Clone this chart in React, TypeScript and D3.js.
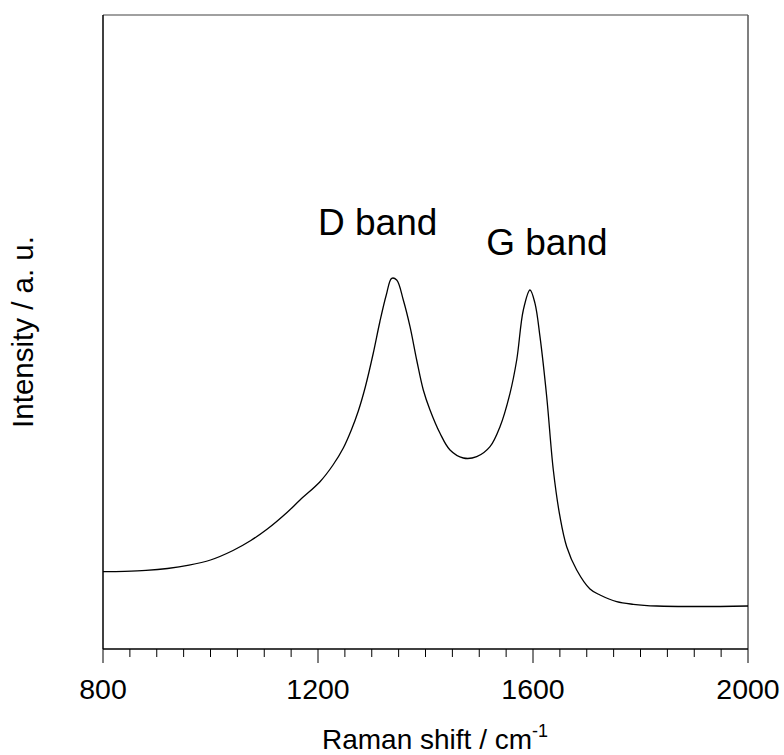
import React from "react";
import * as d3 from "d3";

const ramanShift = [
  800, 840, 880, 920, 960, 1000, 1041.9, 1075, 1105.1, 1142.3, 1166.5, 1203.7, 1227.9, 1247.1,
  1262, 1275, 1288, 1302.9, 1315, 1327, 1337.1, 1346.4, 1358.7, 1371.2, 1383.6, 1395.9,
  1408.4, 1427.0, 1445.6, 1470.3, 1495.3, 1520.0, 1538.6, 1557.2, 1569.7, 1582.0, 1594.4,
  1603.7, 1613.0, 1625.5, 1637.8, 1650.2, 1662.7, 1681.3, 1706.0, 1724.7, 1755.7, 1786.6,
  1830.1, 1910.7, 2000,
];
const intensity = [
  77.3, 77.7, 78.6, 80.5, 83.8, 89, 98.5, 108.5, 119.7, 136.5, 149, 167.3, 184, 201,
  219, 238, 262, 296, 327, 354, 370.7, 369, 349, 322.3, 289, 259,
  239, 215.7, 199, 191, 192.3, 202.3, 222.3, 255.7, 289, 339, 359,
  345.7, 312.3, 252.3, 179, 132.3, 102.3, 79, 60, 54, 47.3, 44.7,
  43, 42.5, 43,
];
const majorTicks = [800, 1200, 1600, 2000];
const minorTicks = d3.range(800, 2001, 50);
const annotations = [
  { label: "D band", x: 1200, y: 414 },
  { label: "G band", x: 1513, y: 394 },
];

const W = 784;
const H = 755;
const left = 103;
const right = 748;
const top = 15;
const bottom = 649;
const FONT = "Arial, 'Liberation Sans', Helvetica, sans-serif";

export default function App() {
  const x = d3.scaleLinear().domain([800, 2000]).range([left, right]);
  const y = d3.scaleLinear().domain([0, 634]).range([bottom, top]);
  const pts = ramanShift.map((d, i) => [d, intensity[i]] as [number, number]);
  const line = d3
    .line<[number, number]>()
    .x((d) => x(d[0]))
    .y((d) => y(d[1]))
    .curve(d3.curveCatmullRom.alpha(0.5));

  return (
    <svg
      width={W}
      height={H}
      style={{ position: "absolute", left: 0, top: 0, background: "#fff" }}
      fontFamily={FONT}
    >
      <rect x={0} y={0} width={W} height={H} fill="#fff" />
      <line x1={left} x2={right} y1={top} y2={top} stroke="#808080" strokeWidth={1.5} />
      <line x1={right} x2={right} y1={top} y2={bottom} stroke="#555" strokeWidth={1.5} />
      <line x1={left} x2={left} y1={top} y2={bottom} stroke="#000" strokeWidth={1.5} />
      <line x1={left} x2={right} y1={bottom} y2={bottom} stroke="#000" strokeWidth={1.5} />
      {minorTicks.map((t) => {
        const major = majorTicks.includes(t);
        return (
          <line
            key={t}
            x1={x(t)}
            x2={x(t)}
            y1={bottom}
            y2={bottom + (major ? 14 : 8)}
            stroke="#000"
            strokeWidth={1}
          />
        );
      })}
      {majorTicks.map((t) => (
        <text key={t} x={x(t)} y={699} textAnchor="middle" fontSize={28.5} fill="#000">
          {t}
        </text>
      ))}
      <path d={line(pts) || ""} fill="none" stroke="#000" strokeWidth={1.3} />
      {annotations.map((a) => (
        <text key={a.label} x={x(a.x)} y={y(a.y)} fontSize={37} fill="#000">
          {a.label}
        </text>
      ))}
      <text x={322} y={749} fontSize={28} fill="#000">
        Raman shift / cm
        <tspan fontSize={18} dy={-12}>-1</tspan>
      </text>
      <text
        transform={`translate(33,${(top + bottom) / 2}) rotate(-90)`}
        textAnchor="middle"
        fontSize={29.5}
        fill="#000"
      >
        Intensity / a. u.
      </text>
    </svg>
  );
}
